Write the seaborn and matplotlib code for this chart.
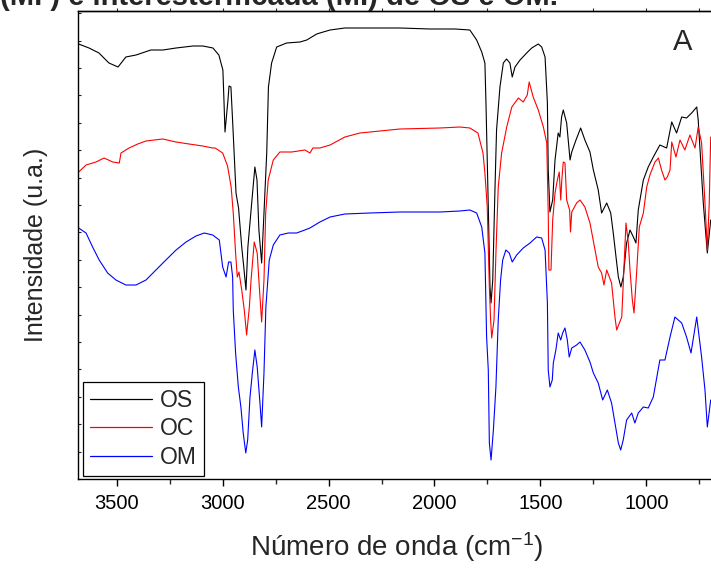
import numpy as np
import pandas as pd
import matplotlib
matplotlib.use("Agg")
import matplotlib.pyplot as plt
import seaborn as sns
from matplotlib.ticker import MultipleLocator
from matplotlib.lines import Line2D

# ---------------- data ----------------
os_wn = [3680, 3631, 3584, 3537, 3494, 3457, 3409, 3339, 3282, 3220, 3140, 3093, 3046, 3018,
         2999, 2994, 2989, 2975, 2970, 2961, 2951, 2937, 2925, 2910, 2899, 2890, 2881, 2863,
         2848, 2838, 2829, 2816, 2805, 2792, 2788, 2784, 2769, 2745, 2698, 2635, 2603, 2556,
         2541, 2493, 2423, 2305, 2163, 2021, 1903, 1833, 1801, 1777, 1762, 1757, 1746, 1738,
         1733, 1725, 1715, 1707, 1691, 1675, 1660, 1644, 1633, 1620, 1596, 1565, 1541, 1510,
         1494, 1478, 1467, 1463, 1455, 1442, 1431, 1416, 1408, 1400, 1392, 1376, 1360, 1352,
         1332, 1310, 1290, 1266, 1250, 1227, 1211, 1187, 1168, 1156, 1143, 1132, 1120, 1109,
         1093, 1077, 1061, 1049, 1038, 1014, 991, 967, 936, 904, 880, 857, 833, 810, 786, 762,
         755, 731, 712, 696]
os_int = [435, 431, 426, 416, 412, 422, 424, 429, 429, 431, 433, 433, 431, 424,
          409, 379, 347, 379, 393, 392, 349, 286, 271, 232, 209, 189, 232, 276,
          312, 299, 249, 216, 266, 326, 359, 392, 416, 432, 436, 437, 439, 445,
          446, 449, 451, 451, 451, 450, 450, 449, 439, 427, 416, 376, 272, 192,
          176, 199, 286, 349, 392, 416, 420, 416, 402, 412, 419, 426, 431, 435,
          432, 422, 376, 309, 267, 279, 319, 346, 342, 362, 369, 356, 319, 327,
          339, 351, 339, 327, 309, 289, 266, 276, 266, 246, 222, 202, 192, 202,
          236, 249, 242, 236, 269, 299, 312, 322, 334, 331, 357, 346, 362, 361, 366, 372,
          359, 276, 226, 259]

oc_wn = [3680, 3645, 3598, 3560, 3519, 3488, 3480, 3442, 3401, 3362, 3283, 3220, 3159, 3094,
         3047, 3036, 3000, 2977, 2960, 2950, 2939, 2931, 2923, 2910, 2898, 2887, 2874, 2866,
         2851, 2837, 2827, 2816, 2805, 2797, 2785, 2761, 2730, 2674, 2612, 2588, 2574, 2541,
         2493, 2423, 2352, 2258, 2163, 1974, 1880, 1833, 1795, 1771, 1762, 1751, 1741, 1735,
         1730, 1719, 1710, 1699, 1683, 1659, 1635, 1604, 1581, 1562, 1553, 1534, 1510, 1486,
         1470, 1463, 1460, 1450, 1442, 1431, 1420, 1411, 1404, 1399, 1392, 1384, 1376, 1362,
         1358, 1352, 1329, 1313, 1290, 1266, 1242, 1227, 1211, 1200, 1187, 1164, 1148, 1140,
         1116, 1109, 1096, 1085, 1077, 1066, 1058, 1045, 1033, 1014, 998, 983, 959, 943, 928,
         912, 901, 888, 880, 860, 841, 818, 794, 770, 755, 739, 723, 712, 703, 696]
oc_int = [307, 314, 317, 321, 317, 316, 326, 331, 335, 338, 340, 337, 335, 333,
          331, 331, 326, 313, 292, 266, 226, 202, 207, 189, 169, 144, 172, 199,
          237, 226, 192, 157, 199, 266, 299, 319, 327, 327, 329, 326, 331, 331,
          334, 342, 346, 348, 350, 351, 352, 351, 346, 326, 306, 272, 192, 159,
          141, 159, 226, 292, 326, 352, 372, 381, 377, 384, 397, 382, 369, 352,
          336, 266, 209, 209, 259, 286, 299, 307, 279, 299, 317, 316, 279, 269,
          247, 267, 276, 279, 272, 256, 229, 212, 206, 194, 209, 196, 162, 149,
          162, 196, 256, 236, 209, 179, 166, 209, 252, 266, 292, 304, 317, 321, 309,
          299, 302, 309, 337, 322, 339, 329, 344, 331, 352, 336, 276, 229, 276, 342]

om_wn = [3680, 3645, 3614, 3583, 3543, 3504, 3457, 3409, 3362, 3315, 3268, 3220, 3173, 3126,
         3087, 3047, 3016, 3000, 2984, 2972, 2961, 2953, 2950, 2939, 2926, 2914, 2903, 2891,
         2882, 2871, 2860, 2848, 2837, 2824, 2816, 2805, 2796, 2780, 2761, 2730, 2690, 2651,
         2612, 2588, 2541, 2493, 2423, 2305, 2163, 1974, 1880, 1833, 1801, 1777, 1762, 1754,
         1746, 1741, 1733, 1722, 1710, 1699, 1688, 1678, 1663, 1647, 1633, 1612, 1581, 1549,
         1518, 1494, 1478, 1467, 1463, 1455, 1444, 1439, 1427, 1416, 1404, 1395, 1384, 1373,
         1364, 1352, 1329, 1313, 1290, 1266, 1250, 1227, 1206, 1184, 1164, 1148, 1132, 1121,
         1109, 1093, 1069, 1054, 1038, 1014, 991, 967, 936, 912, 888, 865, 833, 810, 789, 762,
         739, 723, 712, 696]
om_int = [251, 246, 232, 219, 206, 199, 194, 194, 199, 209, 219, 229, 237, 243,
          246, 244, 239, 212, 202, 217, 217, 202, 169, 126, 92, 72, 46, 26,
          39, 82, 106, 129, 112, 76, 52, 106, 172, 219, 234, 244, 246, 246,
          249, 251, 257, 262, 265, 266, 267, 267, 268, 269, 266, 252, 226, 142,
          109, 36, 19, 49, 92, 159, 199, 219, 229, 226, 217, 224, 231, 236,
          242, 241, 229, 176, 109, 92, 99, 116, 129, 146, 139, 146, 151, 139,
          122, 131, 134, 137, 129, 117, 106, 96, 79, 89, 76, 56, 36, 29,
          39, 59, 66, 56, 66, 72, 71, 82, 119, 119, 142, 162, 156, 142, 126, 162,
          122, 89, 52, 79]

series = ["OS", "OC", "OM"]
colors = ["#000000", "#ff0000", "#0000ff"]
xticks = [3500, 3000, 2500, 2000, 1500, 1000]

df = pd.concat([
    pd.DataFrame({"wn": os_wn, "int": os_int, "amostra": "OS"}),
    pd.DataFrame({"wn": oc_wn, "int": oc_int, "amostra": "OC"}),
    pd.DataFrame({"wn": om_wn, "int": om_int, "amostra": "OM"}),
])

# ---------------- style ----------------
sns.set_style("ticks")
plt.rcParams["font.family"] = ["Liberation Sans", "DejaVu Sans"]
plt.rcParams["mathtext.fontset"] = "custom"
plt.rcParams["mathtext.rm"] = "Liberation Sans"
plt.rcParams["axes.linewidth"] = 1.0

fig = plt.figure(figsize=(7.11, 5.70), dpi=100)
ax = fig.add_axes([78 / 711, 91 / 570, (716 - 78) / 711, (479 - 11) / 570])

sns.lineplot(data=df, x="wn", y="int", hue="amostra", hue_order=series,
             palette=dict(zip(series, colors)), estimator=None, sort=True,
             linewidth=0.8, legend=False, ax=ax)

ax.set_xlim(3683, 671)
ax.set_ylim(0, 468)
ax.set_xticks(xticks)
ax.set_xticklabels([str(t) for t in xticks])
ax.xaxis.set_minor_locator(MultipleLocator(250))
ax.set_yticks(np.arange(0, 468, 27.4))
ax.set_yticklabels([])
ax.tick_params(axis="x", which="major", direction="out", length=5, width=1.0,
               labelsize=14.5, pad=6, colors="black")
ax.tick_params(axis="x", which="minor", direction="out", length=3.5, width=1.0)
ax.tick_params(axis="y", which="major", direction="in", length=2, width=0.8, left=True)

for s in ["top", "left", "bottom", "right"]:
    ax.spines[s].set_visible(True)
    ax.spines[s].set_color("black")

sec = ax.secondary_xaxis("top")
sec.set_xticks(xticks)
sec.xaxis.set_minor_locator(MultipleLocator(250))
sec.set_xticklabels([])
sec.tick_params(which="both", direction="out", length=2, width=0.8)

ax.set_xlabel(r"Número de onda (cm$\mathregular{^{-1}}$)", fontsize=20, labelpad=12)
ax.set_ylabel("Intensidade (u.a.)", fontsize=18, labelpad=18)

handles = [Line2D([], [], color=c, linewidth=0.9) for c in colors]
leg = ax.legend(handles, series, loc="lower left", bbox_to_anchor=(5 / 638, 3 / 468),
                fontsize=16.5, frameon=True, fancybox=False, edgecolor="black",
                framealpha=1, borderpad=0.3, labelspacing=0.25, handlelength=2.7,
                handletextpad=0.35, borderaxespad=0)
leg.get_frame().set_linewidth(0.9)

fig.text(683 / 711, 1 - 42 / 570, "A", fontsize=21, ha="center", va="center")

fig.text(0.0, 1 - 5 / 570, "(MI ) e interesterificada (MI) de OS e OM.",
         fontsize=21, fontweight="bold", ha="left", va="baseline")

fig.savefig("out.png", dpi=100)
